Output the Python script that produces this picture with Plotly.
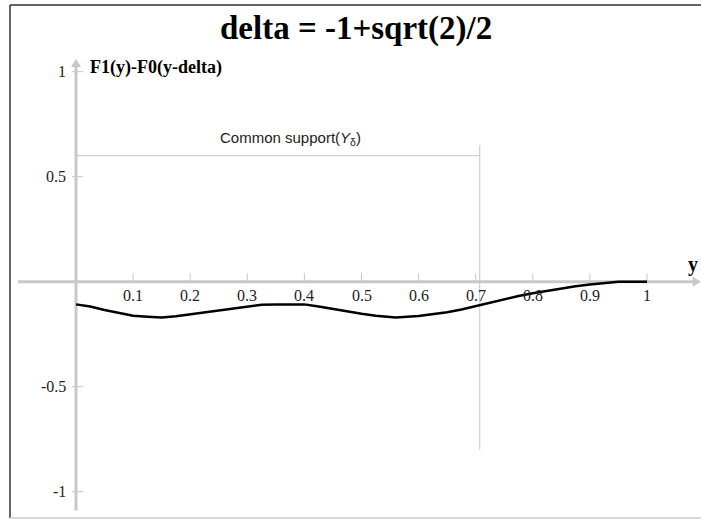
import plotly.graph_objects as go

# F1(y) - F0(y - delta) sampled along y
y_vals = [0.0, 0.025, 0.05, 0.075, 0.1, 0.125, 0.15, 0.175, 0.2, 0.225, 0.25, 0.275,
          0.3, 0.325, 0.35, 0.4, 0.425, 0.45, 0.475, 0.5, 0.525, 0.56, 0.6, 0.625,
          0.65, 0.675, 0.7071, 0.725, 0.75, 0.775, 0.8, 0.825, 0.85, 0.875, 0.9,
          0.925, 0.95, 1.0]
diff_vals = [-0.108, -0.118, -0.135, -0.150, -0.162, -0.167, -0.171, -0.165, -0.156,
             -0.147, -0.137, -0.127, -0.118, -0.110, -0.108, -0.108, -0.118, -0.130,
             -0.142, -0.153, -0.162, -0.170, -0.163, -0.155, -0.145, -0.132, -0.111,
             -0.098, -0.085, -0.068, -0.055, -0.043, -0.032, -0.022, -0.013, -0.006,
             0.0, 0.0]

x_ticks = [0.1, 0.2, 0.3, 0.4, 0.5, 0.6, 0.7, 0.8, 0.9, 1.0]
x_tick_text = ["0.1", "0.2", "0.3", "0.4", "0.5", "0.6", "0.7", "0.8", "0.9", "1"]
y_ticks = [1.0, 0.5, -0.5, -1.0]
y_tick_text = ["1", "0.5", "-0.5", "-1"]

delta_end = 2 ** 0.5 / 2          # right end of the common support
support_level = 0.6

W, H = 701, 519
ML, MR, MT, MB = 10, 0, 5, 1
PX_X = 571.0   # pixels per unit on x
PX_Y = 210.0   # pixels per unit on y
X0_PX, Y0_PX = 76.0, 281.7
x_min = -(X0_PX - ML) / PX_X
x_max = x_min + (W - ML - MR) / PX_X
y_max = (Y0_PX - MT) / PX_Y
y_min = y_max - (H - MT - MB) / PX_Y

AXIS = "#c8c8c8"
SERIF = "Liberation Serif, Times New Roman, serif"
SANS = "Liberation Sans, Arial, sans-serif"

fig = go.Figure()
fig.add_trace(go.Scatter(x=y_vals, y=diff_vals, mode="lines",
                         line=dict(color="black", width=2.5), hoverinfo="skip",
                         showlegend=False))

shapes = []
# axes crossing at the origin
shapes.append(dict(type="line", x0=-0.1016, x1=1.082, y0=0, y1=0,
                   line=dict(color=AXIS, width=3), layer="below"))
shapes.append(dict(type="path",
                   path="M 1.080 0.024 L 1.0946 0 L 1.080 -0.024 Z",
                   fillcolor=AXIS, line=dict(width=0), layer="below"))
shapes.append(dict(type="line", x0=0, x1=0, y0=-1.09, y1=1.024,
                   line=dict(color=AXIS, width=3), layer="below"))
shapes.append(dict(type="path",
                   path="M -0.0088 1.022 L 0 1.062 L 0.0088 1.022 Z",
                   fillcolor=AXIS, line=dict(width=0), layer="below"))
for t in x_ticks:
    shapes.append(dict(type="line", x0=t, x1=t, y0=0, y1=0.04,
                       line=dict(color=AXIS, width=1), layer="below"))
for t in y_ticks:
    shapes.append(dict(type="line", x0=-0.007, x1=0.0125, y0=t, y1=t,
                       line=dict(color=AXIS, width=1), layer="below"))
# common support markers
shapes.append(dict(type="line", x0=0, x1=delta_end, y0=support_level, y1=support_level,
                   line=dict(color="#c4c4c4", width=1), layer="below"))
shapes.append(dict(type="line", x0=delta_end, x1=delta_end, y0=0.65, y1=-0.8,
                   line=dict(color="#c4c4c4", width=1), layer="below"))
# frame
shapes.append(dict(type="line", xref="paper", yref="paper", x0=0, x1=0, y0=0, y1=1,
                   line=dict(color="#333333", width=1.5)))
shapes.append(dict(type="line", xref="paper", yref="paper", x0=0, x1=1, y0=1, y1=1,
                   line=dict(color="#333333", width=1.5)))
shapes.append(dict(type="line", xref="paper", yref="paper", x0=0, x1=1, y0=0, y1=0,
                   line=dict(color="#cccccc", width=1.5)))

annotations = []
for t, s in zip(x_ticks, x_tick_text):
    annotations.append(dict(x=t, y=0, text=s, showarrow=False, xanchor="center",
                            yanchor="middle", yshift=-14,
                            font=dict(family=SERIF, size=16, color="#222222")))
for t, s in zip(y_ticks, y_tick_text):
    annotations.append(dict(x=0, y=t, text=s, showarrow=False, xanchor="right",
                            yanchor="middle", xshift=-8,
                            font=dict(family=SERIF, size=16, color="#222222")))
annotations.append(dict(x=0, y=1, text="F1(y)-F0(y-delta)", showarrow=False,
                        xanchor="left", yanchor="middle", xshift=12, yshift=4,
                        font=dict(family=SERIF, size=18, color="black", weight="bold")))
annotations.append(dict(x=1.0806, y=0, text="y", showarrow=False,
                        xanchor="center", yanchor="middle", yshift=17,
                        font=dict(family=SERIF, size=20, color="black", weight="bold")))
annotations.append(dict(x=0.375, y=0.68, text="Common support(<i>Y</i><sub>δ</sub>)",
                        showarrow=False, xanchor="center", yanchor="middle",
                        font=dict(family=SANS, size=15, color="#222222")))
annotations.append(dict(xref="paper", yref="paper", x=0.5, y=1, yshift=-23,
                        text="delta = -1+sqrt(2)/2", showarrow=False,
                        xanchor="center", yanchor="middle",
                        font=dict(family=SERIF, size=33, color="black", weight="bold")))

fig.update_layout(
    width=W, height=H,
    margin=dict(l=ML, r=MR, t=MT, b=MB),
    paper_bgcolor="white", plot_bgcolor="white",
    xaxis=dict(range=[x_min, x_max], visible=False, fixedrange=True),
    yaxis=dict(range=[y_min, y_max], visible=False, fixedrange=True),
    shapes=shapes, annotations=annotations, showlegend=False,
)

fig.write_html("out.html")
